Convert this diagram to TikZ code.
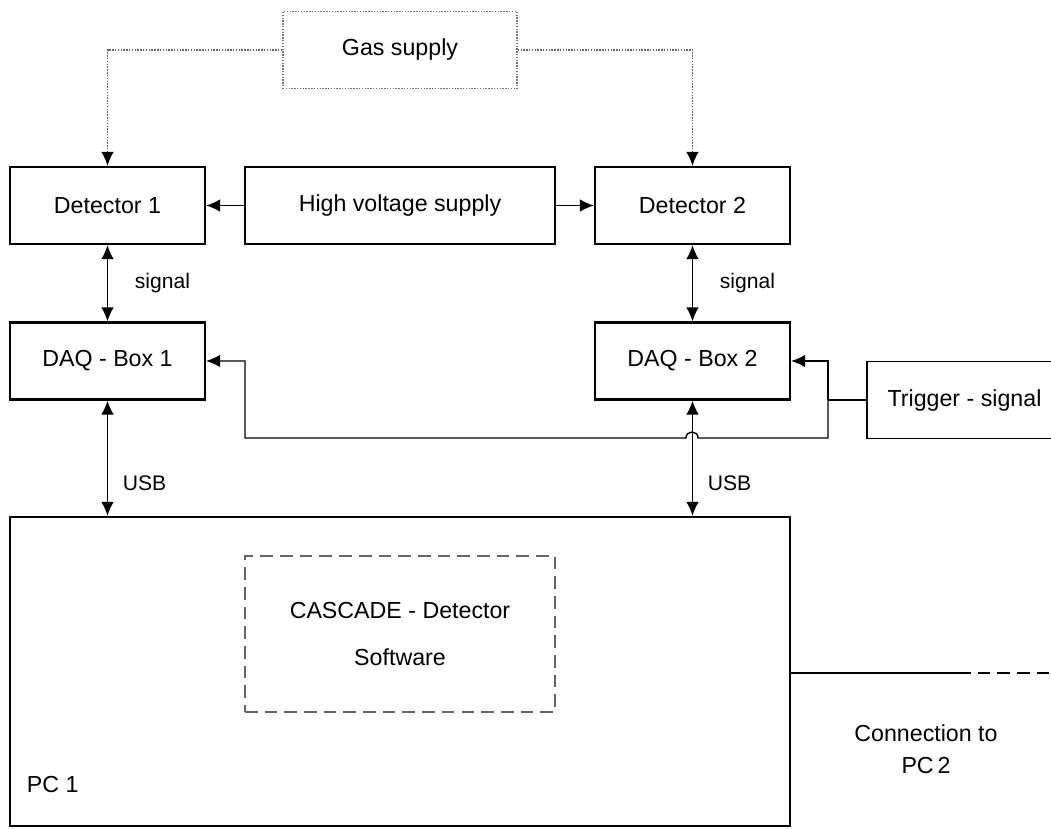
\documentclass[tikz,border=0pt]{standalone}
\usepackage{fontspec}
\setmainfont{Liberation Sans}
\usetikzlibrary{arrows.meta,positioning}

\tikzset{
    unit/.style={rectangle,draw=black,line width=1.6pt,minimum width=4.875cm,minimum height=1.925cm,
        font=\fontsize{16.5}{20}\selectfont},
    lbl/.style={font=\fontsize{15}{18}\selectfont},
    link/.style={line width=1pt},
    gasline/.style={draw=black!60,line width=1pt,densely dotted},
}

\begin{document}
\begin{tikzpicture}[x=0.025cm,y=-0.025cm,>={Latex[length=10pt,width=9pt,color=black]}]
            \clip (0,0) rectangle (1051,828);
            \begin{scope}[every node/.style={unit}]
                \node (det1) at (107.5,205.5) {Detector 1};
                \node[minimum width=7.75cm] (hv) at (400,205.5) {High voltage supply};
                \node (det2) at (692.5,205.5) {Detector 2};
                \node (daq1) at (107.5,361) {DAQ - Box 1};
                \node (daq2) at (692.5,361) {DAQ - Box 2};
                \node[line width=1.1pt] (trig) at (964.5,400) {Trigger - signal};
            \end{scope}
            \node[unit,draw=black!55,line width=1pt,densely dotted,minimum width=5.85cm] (gas) at (400,50) {Gas supply};
            \node[unit,minimum width=19.5cm,minimum height=7.725cm] (pc1) at (400,671.5) {};
            \node[lbl,font=\fontsize{16.5}{20}\selectfont,anchor=west] (pclabel) at (22,785) {PC 1};
            \node[unit,draw=black!60,dashed,dash pattern=on 9pt off 5pt,line width=1.5pt,minimum width=7.75cm,minimum height=3.9cm,
                align=center,font=\fontsize{16.5}{34}\selectfont] (soft) at (400,634) {CASCADE - Detector\\Software};
            \node[align=center,font=\fontsize{16.5}{23}\selectfont] (conn) at (926,749) {Connection to\\PC\,2};

            % gas and high voltage
            \draw[gasline,->] (gas.west) -| (det1.north);
            \draw[gasline,->] (gas.east) -| (det2.north);
            \draw[link,->] (hv) -- (det1);
            \draw[link,->] (hv) -- (det2);

            % readout chain
            \draw[link,<->] (det1) -- node[lbl,right=0.55cm]{signal} (daq1);
            \draw[link,<->] (det2) -- node[lbl,right=0.55cm]{signal} (daq2);
            \draw[link,<->] (daq1) -- node[lbl,pos=0.72,right=0.25cm]{USB} (pc1.north -| daq1);
            \draw[link,<->] (daq2) -- node[lbl,pos=0.72,right=0.25cm]{USB} (pc1.north -| daq2);

            % trigger distribution
            \coordinate (tj) at (828,400);
            \coordinate (tlow) at (828,438);
            \coordinate (hopr) at (698,438);
            \coordinate (hopl) at (686,438);
            \coordinate (tleft) at (245,438);
            \draw[link] (trig.west) -- (tj);
            \draw[link,->] (tj) |- (daq2.east);
            \draw[link,->] (tj) -- (tlow) -- (hopr) .. controls (698,430) and (686,430) .. (hopl) -- (tleft) |- (daq1.east);

            % link to the second computer
            \coordinate (brk) at (958,673);
            \coordinate (pc2) at (1060,673);
            \draw[link] (pc1.east |- brk) -- (brk);
            \draw[link,dash pattern=on 9pt off 5pt] (brk) -- (pc2);
        \end{tikzpicture}
\end{document}
